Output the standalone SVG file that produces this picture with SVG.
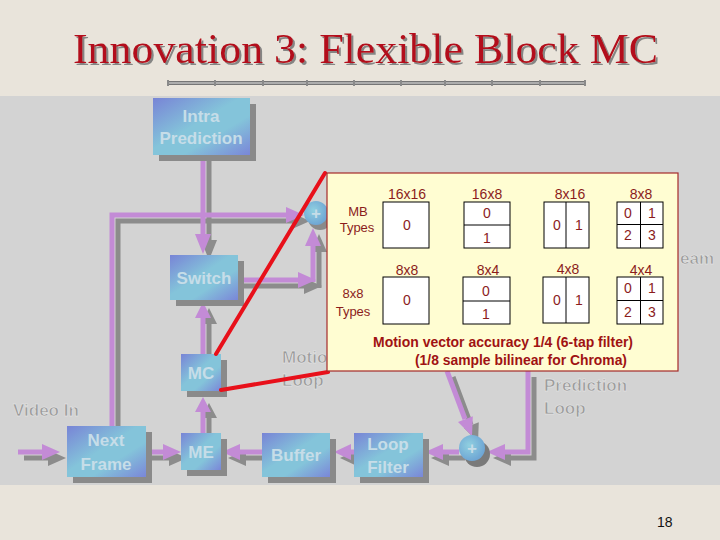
<svg xmlns="http://www.w3.org/2000/svg" xmlns:xlink="http://www.w3.org/1999/xlink" width="720" height="540" viewBox="0 0 720 540">
<style>
.nt{font-family:"Liberation Sans",Arial,sans-serif;font-weight:bold;font-size:17px;fill:#c6dde8;text-anchor:middle}
.gl{font-family:"Liberation Sans",Arial,sans-serif;font-weight:bold;font-size:17px;fill:#9a9a9a;stroke:#ececec;stroke-width:0.5}
.tt{font-family:"Liberation Sans",Arial,sans-serif;font-size:14px;fill:#8b1c1c;text-anchor:middle}
.tl{font-family:"Liberation Sans",Arial,sans-serif;font-size:13px;fill:#8b1c1c;text-anchor:middle}
.ft{font-family:"Liberation Sans",Arial,sans-serif;font-size:14px;font-weight:bold;fill:#a01212}
.cell{fill:#ffffff;stroke:#000000;stroke-width:1}
.sh{fill:#8a8a8a}
.bx{fill:url(#boxg)}
.red{stroke:#e8101a;stroke-width:4;stroke-linecap:round}
</style>
<defs>
<filter id="tshadow" x="-5%" y="-20%" width="110%" height="140%">
<feDropShadow dx="2" dy="2" stdDeviation="0.4" flood-color="#7a7a7a" flood-opacity="0.9"/>
</filter>
<linearGradient id="boxg" x1="0" y1="0" x2="1" y2="1">
<stop offset="0" stop-color="#7884d6"/>
<stop offset="0.45" stop-color="#84c4da"/>
<stop offset="0.65" stop-color="#84c4da"/>
<stop offset="1" stop-color="#7a86d8"/>
</linearGradient>
<radialGradient id="plusg" cx="0.4" cy="0.4" r="0.6">
<stop offset="0" stop-color="#90d0e0"/>
<stop offset="1" stop-color="#6fa6d4"/>
</radialGradient>
<linearGradient id="barg" x1="0" y1="0" x2="0" y2="1">
<stop offset="0" stop-color="#5a5a5a"/>
<stop offset="0.5" stop-color="#c8c8c8"/>
<stop offset="1" stop-color="#5a5a5a"/>
</linearGradient>
<g id="wires">
<path fill="none" stroke-width="5" d="M203,155 V236 M112,426 V215 H288 M238,280 H300 M313,282 V244 M203,354 V316 M203,433 V410 M18,452 H44 M146,452 H165 M262,452 H239 M354,452 H349 M459,452 H442 M447,371 L465,419 M528,371 V452 H504"/>
<g stroke="none">
<polygon points="195,234 211,234 203,254"/>
<polygon points="286,207 286,223 304,215"/>
<polygon points="298,272 298,288 316,280"/>
<polygon points="305,246 321,246 313,228"/>
<polygon points="195,318 211,318 203,302"/>
<polygon points="195,412 211,412 203,397"/>
<polygon points="42,444 42,460 60,452"/>
<polygon points="163,444 163,460 181,452"/>
<polygon points="240,444 240,460 222,452"/>
<polygon points="351,444 351,460 334,452"/>
<polygon points="443,444 443,460 425,452"/>
<polygon points="472.8,416.3 458,422.1 472,436"/>
<polygon points="505,444 505,460 487,452"/>
</g>
</g>
</defs>

<rect x="0" y="0" width="720" height="540" fill="#e9e4db"/>
<rect x="0" y="96" width="720" height="389" fill="#d3d3d3"/>

<g id="title">
<text x="73" y="63" font-family="'Liberation Serif','Times New Roman',serif" font-size="43" fill="#b3111a" filter="url(#tshadow)" textLength="585" lengthAdjust="spacingAndGlyphs">Innovation 3: Flexible Block MC</text>
</g>
<g id="title-bar">
<rect x="167" y="81" width="419" height="4" fill="url(#barg)"/>
<g fill="#8a8a8a">
<rect x="167" y="80" width="2" height="6"/><rect x="214" y="80" width="2" height="6"/><rect x="262" y="80" width="2" height="6"/><rect x="306" y="80" width="2" height="6"/><rect x="353" y="80" width="2" height="6"/><rect x="400" y="80" width="2" height="6"/><rect x="444" y="80" width="2" height="6"/><rect x="491" y="80" width="2" height="6"/><rect x="539" y="80" width="2" height="6"/><rect x="584" y="80" width="2" height="6"/>
</g>
</g>

<g id="connectors">
<use xlink:href="#wires" transform="translate(6,6)" stroke="#8c8c8c" fill="#8c8c8c"/>
<use xlink:href="#wires" stroke="#c38bd6" fill="#c38bd6"/>
</g>

<g id="node-intra"><rect class="sh" x="159" y="104" width="97" height="57"/><rect class="bx" x="153" y="98" width="97" height="57"/><text class="nt" x="201" y="122">Intra</text><text class="nt" x="201" y="144">Prediction</text></g>
<g id="node-switch"><rect class="sh" x="176" y="261" width="68" height="45"/><rect class="bx" x="170" y="255" width="68" height="45"/><text class="nt" x="204" y="284">Switch</text></g>
<g id="node-mc"><rect class="sh" x="187" y="360" width="40" height="37"/><rect class="bx" x="181" y="354" width="40" height="37"/><text class="nt" x="201" y="379">MC</text></g>
<g id="node-me"><rect class="sh" x="187" y="439" width="40" height="37"/><rect class="bx" x="181" y="433" width="40" height="37"/><text class="nt" x="201" y="458">ME</text></g>
<g id="node-next"><rect class="sh" x="73" y="432" width="79" height="51"/><rect class="bx" x="67" y="426" width="79" height="51"/><text class="nt" x="106" y="446">Next</text><text class="nt" x="106" y="470">Frame</text></g>
<g id="node-buffer"><rect class="sh" x="268" y="439" width="68" height="44"/><rect class="bx" x="262" y="433" width="68" height="44"/><text class="nt" x="296" y="461">Buffer</text></g>
<g id="node-loopfilter"><rect class="sh" x="360" y="439" width="69" height="44"/><rect class="bx" x="354" y="433" width="69" height="44"/><text class="nt" x="388" y="450">Loop</text><text class="nt" x="388" y="473">Filter</text></g>
<g id="node-plus1"><circle cx="320" cy="218" r="12" fill="#8a8a8a"/><circle cx="316" cy="213" r="12" fill="url(#plusg)"/><text class="nt" x="316" y="219" font-size="14" fill="#e8f4f8">+</text></g>
<g id="node-plus2"><circle cx="477" cy="454" r="13" fill="#7a7a7a"/><circle cx="472" cy="448" r="13" fill="url(#plusg)"/><text class="nt" x="472" y="454" font-size="14" fill="#e8f4f8">+</text></g>

<g id="labels">
<text class="gl" x="13" y="416">Video In</text>
<text class="gl" x="282" y="363">Motion</text>
<text class="gl" x="282" y="386">Loop</text>
<text class="gl" x="544" y="391">Prediction</text>
<text class="gl" x="544" y="414">Loop</text>
<text class="gl" x="680" y="264">eam</text>
</g>

<g id="callout-lines">
<line class="red" x1="325" y1="173" x2="216" y2="354"/>
<line class="red" x1="221" y1="390" x2="328" y2="372"/>
</g>

<g id="block-types">
<rect x="327" y="173" width="351" height="198" fill="#fffdd2" stroke="#a52a2a" stroke-width="1.2"/>
<text class="tl" x="358" y="216">MB</text>
<text class="tl" x="357" y="232">Types</text>
<text class="tl" x="353" y="298">8x8</text>
<text class="tl" x="353" y="316">Types</text>

<text class="tt" x="407" y="199">16x16</text>
<rect class="cell" x="383" y="202" width="46" height="46"/>
<text class="tt" x="407" y="230">0</text>

<text class="tt" x="487" y="199">16x8</text>
<rect class="cell" x="464" y="202" width="46" height="46"/>
<line stroke="#000" x1="464" y1="225" x2="510" y2="225"/>
<text class="tt" x="487" y="218">0</text>
<text class="tt" x="487" y="243">1</text>

<text class="tt" x="570" y="199">8x16</text>
<rect class="cell" x="544" y="202" width="45" height="46"/>
<line stroke="#000" x1="566" y1="202" x2="566" y2="248"/>
<text class="tt" x="557" y="230">0</text>
<text class="tt" x="579" y="230">1</text>

<text class="tt" x="641" y="199">8x8</text>
<rect class="cell" x="617" y="202" width="46" height="46"/>
<line stroke="#000" x1="640.5" y1="202" x2="640.5" y2="248"/>
<line stroke="#000" x1="617" y1="224.5" x2="663" y2="224.5"/>
<text class="tt" x="628" y="218">0</text>
<text class="tt" x="652" y="218">1</text>
<text class="tt" x="628" y="240">2</text>
<text class="tt" x="652" y="240">3</text>

<text class="tt" x="407" y="275">8x8</text>
<rect class="cell" x="383" y="277" width="46" height="47"/>
<text class="tt" x="407" y="305">0</text>

<text class="tt" x="488" y="275">8x4</text>
<rect class="cell" x="463" y="277" width="47" height="47"/>
<line stroke="#000" x1="463" y1="301" x2="510" y2="301"/>
<text class="tt" x="486" y="296">0</text>
<text class="tt" x="486" y="319">1</text>

<text class="tt" x="568" y="274">4x8</text>
<rect class="cell" x="543" y="277" width="46" height="46"/>
<line stroke="#000" x1="566" y1="277" x2="566" y2="323"/>
<text class="tt" x="557" y="305">0</text>
<text class="tt" x="579" y="305">1</text>

<text class="tt" x="641" y="275">4x4</text>
<rect class="cell" x="617" y="277" width="46" height="47"/>
<line stroke="#000" x1="640.5" y1="277" x2="640.5" y2="324"/>
<line stroke="#000" x1="617" y1="300.5" x2="663" y2="300.5"/>
<text class="tt" x="628" y="293">0</text>
<text class="tt" x="652" y="293">1</text>
<text class="tt" x="628" y="317">2</text>
<text class="tt" x="652" y="317">3</text>

<text class="ft" x="373" y="347" textLength="260" lengthAdjust="spacingAndGlyphs">Motion vector accuracy 1/4 (6-tap filter)</text>
<text class="ft" x="415" y="365" textLength="212" lengthAdjust="spacingAndGlyphs">(1/8 sample bilinear for Chroma)</text>
</g>

<text x="657" y="527" font-family="'Liberation Sans',Arial,sans-serif" font-size="14" fill="#111111">18</text>
</svg>
